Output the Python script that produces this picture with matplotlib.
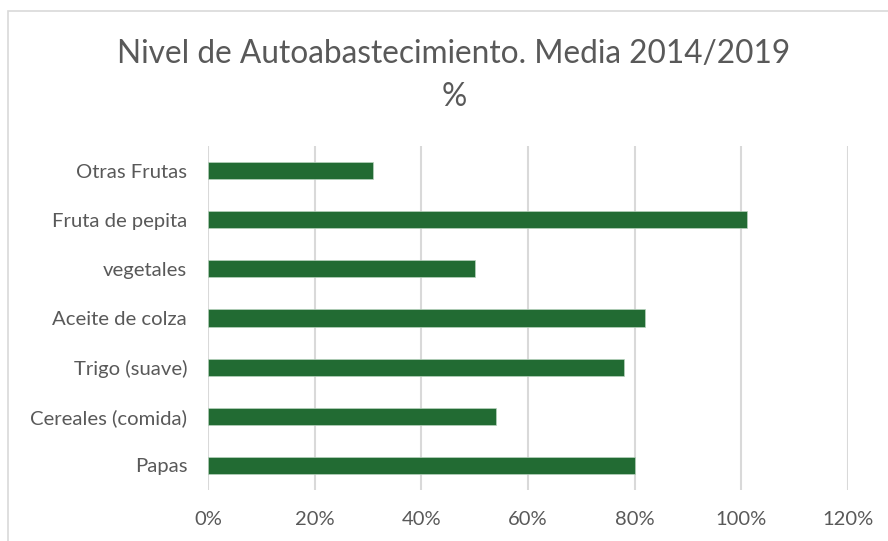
import matplotlib
matplotlib.use("Agg")
import matplotlib.pyplot as plt
from matplotlib.patches import Rectangle
from matplotlib.ticker import FuncFormatter

categories = ["Papas", "Cereales (comida)", "Trigo (suave)", "Aceite de colza",
              "vegetales", "Fruta de pepita", "Otras Frutas"]
values = [80, 54, 78, 82, 50, 101, 31]
xticks = [0, 20, 40, 60, 80, 100, 120]

plt.rcParams['font.family'] = ['Lato', 'DejaVu Sans']
W, H = 888, 541
fig = plt.figure(figsize=(W/100, H/100), dpi=100)
ax = fig.add_axes([208/W, 1-490/H, 640/W, 344/H])

ax.barh(range(len(categories)), values, height=0.35, color="#226B33",
        edgecolor="#B8D3BE", linewidth=0.5, zorder=3)
ax.set_xlim(0, 120)
ax.set_ylim(-0.5, len(categories)-0.5)
ax.set_yticks(range(len(categories)))
ax.set_yticklabels(categories, fontsize=14.6, color="#595959")
ax.set_xticks(xticks)
ax.xaxis.set_major_formatter(FuncFormatter(lambda v, p: f"{int(v)}%"))
ax.tick_params(axis='x', labelsize=14.5, labelcolor="#595959", length=0, pad=15)
ax.tick_params(axis='y', length=0, pad=15)
ax.grid(axis='x', color="#D9D9D9", linewidth=1.5, zorder=0)
for s in ax.spines.values():
    s.set_visible(False)

fig.text(454/W, 1-54/H, "Nivel de Autoabastecimiento. Media 2014/2019",
         ha='center', va='center', fontsize=22.8, color="#595959")
fig.text(454/W, 1-97/H, "%", ha='center', va='center', fontsize=22.8,
         color="#595959")

fig.patches.append(Rectangle((8/W, -0.1), 2.0, 1+0.1-11/H, transform=fig.transFigure,
                             fill=False, edgecolor="#D9D9D9", linewidth=1.2))

fig.savefig("out.png", dpi=100)
